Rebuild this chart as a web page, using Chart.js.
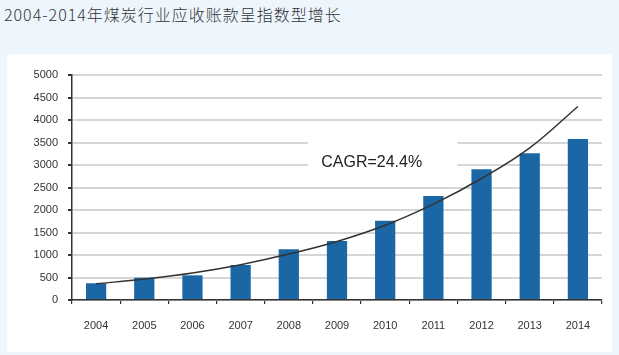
<!DOCTYPE html>
<html>
<head>
<meta charset="utf-8">
<script src="https://cdn.jsdelivr.net/npm/chart.js@4.4.0/dist/chart.umd.min.js"></script>
<style>
  html, body { margin: 0; padding: 0; }
  body { width: 619px; height: 355px; background: #eef6fd; position: relative; overflow: hidden; }
  #title { position: absolute; left: 4px; top: 4px; font-family: "Noto Sans CJK SC", sans-serif; font-size: 16px; font-weight: 300; letter-spacing: 1px; color: #333; white-space: nowrap; line-height: 20px; }
  #panel { position: absolute; left: 7px; top: 54px; width: 605px; height: 298px; background: #fff; }
  #panel canvas { display: block; }
</style>
</head>
<body>
<div id="title">2004-2014年煤炭行业应收账款呈指数型增长</div>
<div id="panel"><canvas id="c" width="605" height="298"></canvas></div>
<script>
const years = ['2004','2005','2006','2007','2008','2009','2010','2011','2012','2013','2014'];
const receivables = [371, 496, 548, 778, 1127, 1311, 1763, 2311, 2904, 3259, 3580];
const trendCurve = [360, 465, 600, 785, 1020, 1300, 1660, 2130, 2700, 3380, 4300];
const yTicks = [0, 500, 1000, 1500, 2000, 2500, 3000, 3500, 4000, 4500, 5000];
const cagrLabel = 'CAGR=24.4%';

const labelPlugin = {
  id: 'cagrLabel',
  beforeDatasetsDraw(chart) {
    const { ctx, scales: { x, y } } = chart;
    const x0 = x.getPixelForValue(4.4), x1 = x.getPixelForValue(7.5);
    const y0 = y.getPixelForValue(3800), y1 = y.getPixelForValue(2700);
    ctx.save();
    ctx.fillStyle = '#ffffff';
    ctx.fillRect(x0, y0, x1 - x0, y1 - y0);
    ctx.fillStyle = '#222';
    ctx.font = '16px "Liberation Sans", Arial, sans-serif';
    ctx.textAlign = 'center';
    ctx.textBaseline = 'middle';
    ctx.fillText(cagrLabel, x.getPixelForValue(5.72), y.getPixelForValue(3060));
    ctx.restore();
  }
};

const tickFont = { family: '"Liberation Sans", Arial, sans-serif', size: 11 };

new Chart(document.getElementById('c'), {
  data: {
    labels: years,
    datasets: [
      {
        type: 'line',
        data: trendCurve,
        borderColor: '#333',
        borderWidth: 1.5,
        pointRadius: 0,
        tension: 0.4,
        fill: false,
        order: 0
      },
      {
        type: 'bar',
        data: receivables,
        backgroundColor: '#1b67a6',
        barPercentage: 0.42,
        categoryPercentage: 1.0,
        order: 1
      }
    ]
  },
  options: {
    responsive: false,
    animation: false,
    devicePixelRatio: 1,
    layout: { padding: { left: 0, right: 10, top: 21, bottom: 0 } },
    plugins: { legend: { display: false }, tooltip: { enabled: false } },
    scales: {
      x: {
        offset: true,
        grid: { display: true, offset: true, drawOnChartArea: false, drawTicks: true, tickLength: 4, color: '#333', lineWidth: 1.2 },
        border: { display: true, color: '#333', width: 1.5 },
        ticks: { font: tickFont, color: '#333', padding: 15, maxRotation: 0 },
        afterFit(scale) { scale.height = 52; }
      },
      y: {
        min: 0, max: 5000,
        afterBuildTicks(scale) { scale.ticks = yTicks.map(v => ({ value: v })); },
        grid: { color: '#d6d6d6', lineWidth: 2, tickColor: '#333', tickLength: 4, drawTicks: true },
        border: { display: true, color: '#333', width: 1.5 },
        ticks: { font: tickFont, color: '#333', padding: 10, callback: (v) => String(v) },
        afterFit(scale) { scale.width = 65; }
      }
    }
  },
  plugins: [labelPlugin]
});
</script>
</body>
</html>
